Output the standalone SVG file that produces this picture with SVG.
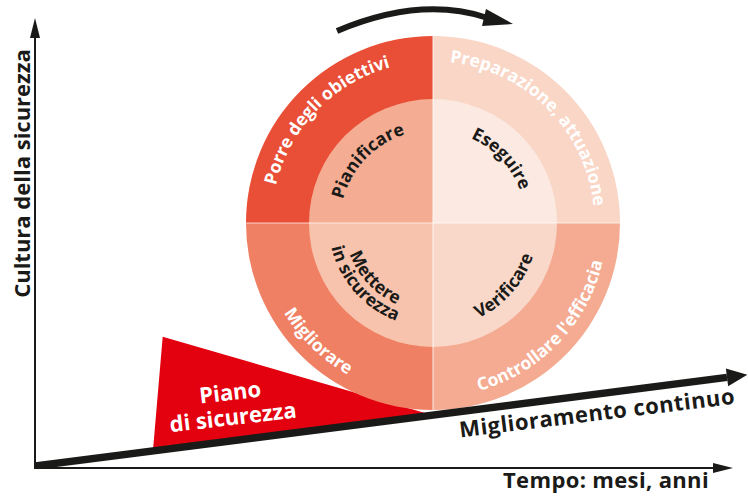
<svg xmlns="http://www.w3.org/2000/svg" width="748" height="497" viewBox="0 0 748 497">
<style>
text{font-family:"Open Sans","Liberation Sans",sans-serif;font-weight:700}
.w{fill:#ffffff;font-size:17.5px}
.k{fill:#1a1a18;font-size:17.5px}
.big{font-size:22px;fill:#1a1a18}
.sep{stroke:#ffffff;stroke-width:1.2;stroke-opacity:0.7}
.axis{stroke:#1a1a18;stroke-width:2;fill:none}
</style>
<defs>
<marker id="axhead" markerUnits="userSpaceOnUse" orient="auto" markerWidth="22" markerHeight="12" refX="0" refY="5" overflow="visible"><path d="M0,0 L20,5 L0,10 Z" fill="#1a1a18"/></marker>
<marker id="bighead" markerUnits="userSpaceOnUse" orient="auto" markerWidth="22" markerHeight="20" refX="0" refY="9" overflow="visible"><path d="M0,0 L20.5,9 L0,18 Z" fill="#1a1a18"/></marker>
<clipPath id="plot"><rect x="35" y="0" width="713" height="468.6"/></clipPath>
<path id="pTLo" d="M271.5,223 A161.5,161.5 0 0 1 433,61.5"/>
<path id="pTRo" d="M433,61.5 A161.5,161.5 0 0 1 594.5,223"/>
<path id="pTLi" d="M340,223 A93,93 0 0 1 433,130"/>
<path id="pTRi" d="M433,130 A93,93 0 0 1 526,223"/>
<path id="pBLo" d="M259,223 A174,174 0 0 0 433,397"/>
<path id="pBRo" d="M433,397 A174,174 0 0 0 607,223"/>
<path id="pBL1" d="M344,223 A89,89 0 0 0 433,312"/>
<path id="pBL2" d="M328.5,223 A104.5,104.5 0 0 0 433,327.5"/>
<path id="pBRi" d="M433,328.5 A105.5,105.5 0 0 0 538.5,223"/>
</defs>

<g id="axes">
<line class="axis" x1="35" y1="468" x2="35" y2="38" marker-end="url(#axhead)"/>
<line class="axis" x1="34" y1="468" x2="713" y2="468" marker-end="url(#axhead)"/>
<text class="big" transform="translate(29.5,173.5) rotate(-90)" text-anchor="middle">Cultura della sicurezza</text>
<text class="big" x="606" y="488" text-anchor="middle" letter-spacing="0.35">Tempo: mesi, anni</text>
</g>

<g id="piano">
<polygon points="162.7,336.7 425,413 153,450" fill="#e3000f"/>
<text class="big" style="fill:#ffffff" transform="translate(231,400) rotate(-6.6)" text-anchor="middle"><tspan x="0" y="0">Piano</tspan><tspan x="0" y="25">di sicurezza</tspan></text>
</g>

<g id="q-pianificare">
<path d="M433,223 L246,223 A187,187 0 0 1 433,36 Z" fill="#e94e36"/>
<path d="M433,223 L309,223 A124,124 0 0 1 433,99 Z" fill="#f4ac92"/>
<text class="w"><textPath href="#pTLo" startOffset="49%" text-anchor="middle">Porre degli obiettivi</textPath></text>
<text class="k"><textPath href="#pTLi" startOffset="48.5%" text-anchor="middle">Pianificare</textPath></text>
</g>

<g id="q-eseguire">
<path d="M433,223 L433,36 A187,187 0 0 1 620,223 Z" fill="#f9d6c6"/>
<path d="M433,223 L433,99 A124,124 0 0 1 557,223 Z" fill="#fce9e1"/>
<text class="w"><textPath href="#pTRo" startOffset="50%" text-anchor="middle">Preparazione, attuazione</textPath></text>
<text class="k"><textPath href="#pTRi" startOffset="52%" text-anchor="middle">Eseguire</textPath></text>
</g>

<g id="q-verificare">
<path d="M433,223 L620,223 A187,187 0 0 1 433,410 Z" fill="#f4ab92"/>
<path d="M433,223 L557,223 A124,124 0 0 1 433,347 Z" fill="#f9d8c9"/>
<text class="w"><textPath href="#pBRo" startOffset="51.4%" text-anchor="middle">Controllare l'efficacia</textPath></text>
<text class="k"><textPath href="#pBRi" startOffset="54%" text-anchor="middle">Verificare</textPath></text>
</g>

<g id="q-mettere">
<path d="M433,223 L433,410 A187,187 0 0 1 246,223 Z" fill="#f08063"/>
<path d="M433,223 L433,347 A124,124 0 0 1 309,223 Z" fill="#f8c3ac"/>
<text class="w"><textPath href="#pBLo" startOffset="51%" text-anchor="middle">Migliorare</textPath></text>
<text class="k"><textPath href="#pBL1" startOffset="48%" text-anchor="middle">Mettere</textPath></text>
<text class="k"><textPath href="#pBL2" startOffset="46%" text-anchor="middle">in sicurezza</textPath></text>
</g>

<g id="separators">
<line class="sep" x1="246" y1="223" x2="620" y2="223"/>
<line class="sep" x1="433" y1="36" x2="433" y2="410"/>
</g>

<g id="connectors">
<path d="M337,31 Q420,-4 486,17.5" fill="none" stroke="#1a1a18" stroke-width="6"/>
<polygon points="486,9 513,24 482,26" fill="#1a1a18"/>
<line x1="30" y1="466.6" x2="727" y2="377.4" stroke="#1a1a18" stroke-width="7.5" clip-path="url(#plot)" marker-end="url(#bighead)"/>
<text class="big" transform="translate(598,420.5) rotate(-7)" text-anchor="middle" letter-spacing="0.5">Miglioramento continuo</text>
</g>
</svg>
